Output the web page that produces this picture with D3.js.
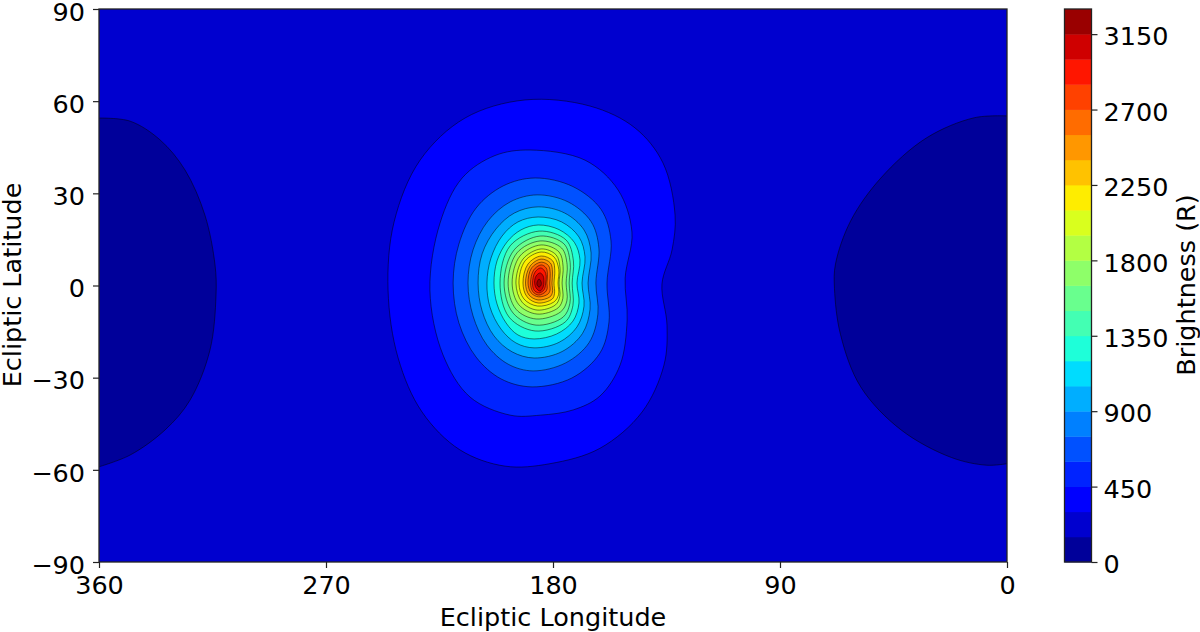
<!DOCTYPE html>
<html><head><meta charset="utf-8">
<script src="https://cdnjs.cloudflare.com/ajax/libs/d3/7.8.5/d3.min.js"></script>
<style>html,body{margin:0;background:#fff}svg{display:block}text{font-family:"DejaVu Sans",sans-serif;fill:#000}</style>
</head><body><svg id="c" width="1200" height="632"></svg>
<script>
const lonTicks=[360,270,180,90,0];
const latTicks=[90,60,30,0,-30,-60,-90];
const barTicks=[0,450,900,1350,1800,2250,2700,3150];
const bandEdges=d3.range(0,3301,150);
// jet colormap anchor points: [position, channel value]
const jetRed=[[0,0],[.35,0],[.66,1],[.89,1],[1,.5]];
const jetGreen=[[0,0],[.125,0],[.375,1],[.64,1],[.91,0],[1,0]];
const jetBlue=[[0,.5],[.11,1],[.34,1],[.65,0],[1,0]];

// Contours: [longitude, latitude]
const patch150Left=[[360,54.5],[347.7,53.5],[335.8,47.4],[325.9,37.6],[318,22.9],[314,6.7],[313.6,-3.1],[316,-21],[323.9,-37.3],[333.8,-47],[347.7,-55.2],[360,-59]];
const patch150Right=[[0,55.2],[13,54.6],[32,48],[50,35],[62,21],[68,7],[68.4,-1],[66,-16],[58,-33],[42,-47],[22,-56],[8,-58.5],[0,-58]];
const c300=[[191.1,60.4],[165.3,58.4],[147.5,51.3],[136.4,39.9],[131.6,22.9],[132.8,11.6],[136.8,0.5],[134.8,-12.9],[136,-25.9],[144.7,-41.2],[161.4,-53],[181.2,-58],[199,-58.8],[216.9,-53.5],[231.9,-41.2],[241.4,-23.6],[245.4,-1.5],[243,20.7],[232.7,40.8],[214.9,54.5]];
const c450=[[189.1,44.1],[167.3,40.8],[154.2,31.1],[148.7,17.4],[151.4,2.4],[150.6,-11.2],[153.4,-25.9],[161.4,-36],[172,-40.5],[185,-42.2],[197,-42.2],[212.9,-36.3],[223.6,-22.6],[228.8,-1.5],[224.8,20.3],[216,35],[203,42.3]];
const c600=[[187.1,35],[172.1,32.2],[160.9,24.7],[157,14.5],[158.6,.8],[157.8,-11.9],[161.4,-22],[172.5,-30.1],[188.3,-33],[200.6,-30.4],[210.5,-23.3],[217.3,-12.2],[219.6,.8],[217.3,13.5],[210.5,25.2],[199.8,32.4]];
const c750=[[186.3,29.5],[174,27.2],[164.9,20.8],[161.8,12.2],[163,.8],[162.2,-9.3],[165.7,-18.6],[175,-25.2],[187.9,-27.8],[197.8,-25.6],[206.2,-19.4],[211.7,-9.9],[213.7,.8],[211.7,11.6],[205.8,21],[197,27.2]];
const c900=[[185.9,25.6],[175.4,23.6],[167.7,18.1],[164.9,10.6],[166.1,.8],[165.3,-7.7],[168.3,-15.6],[176.4,-21.5],[187.5,-23.6],[196.2,-21.6],[203.4,-16.4],[208.1,-8.3],[209.7,.8],[208.1,10.3],[202.6,18.4],[195.3,23.6]];
const c1050=[[185.9,22.3],[176.6,20.7],[169.7,15.8],[167.3,9.3],[168.5,.8],[167.7,-6.7],[170.5,-13.5],[177.6,-18.5],[187.5,-20.3],[194.7,-18.7],[200.6,-14.2],[205,-7],[206.2,.8],[204.6,8.9],[200.2,16.1],[193.9,20.7]];
const c1200=[[185.9,19.7],[177.6,18.2],[171.5,14],[169.3,8.3],[170.5,.8],[169.7,-5.7],[172.1,-11.6],[178.6,-15.8],[187.5,-17.4],[193.9,-16.1],[198.6,-12.2],[202.2,-6],[203.4,.8],[202.2,8],[198.2,14.2],[192.7,18.1]];
const c1350=[[185.5,17.7],[174.8,14.8],[171.9,8],[172.4,.8],[172.1,-6.5],[175.2,-11.9],[187.1,-14.8],[197.4,-10.3],[201,.8],[197,12.9]];
const c1500=[[185.1,16.1],[175.6,13.5],[173.2,7.5],[173.6,.8],[173.3,-5.8],[176,-10.3],[186.7,-12.9],[195.8,-9],[199.4,.8],[195.4,11.6]];
const c1650=[[185.1,14.5],[176.6,12.2],[174.4,6.8],[174.8,.8],[174.5,-5],[177,-8.6],[186.7,-10.9],[194.7,-7.7],[197.8,.8],[194.3,10.6]];
const c1800=[[184.7,13.2],[177.6,10.9],[176,6.2],[176.4,.8],[176.1,-4.2],[178,-7.3],[186.3,-9.3],[193.5,-6.3],[196.2,.8],[193.1,9.6]];
const c1950=[[184.7,11.9],[178.8,10],[177.2,5.6],[177.6,.8],[177.3,-3.5],[179,-6.3],[186.3,-8],[192.3,-5.4],[194.7,.8],[191.9,8.6]];
const c2100=[[184.7,10.9],[179.6,9.3],[177.7,5.2],[178,.8],[177.8,-3],[179.7,-5.4],[186.1,-6.7],[191.5,-4.4],[193.5,.8],[191.1,8]];
const c2250=[[184.7,9.6],[180.1,8],[179.3,4.8],[179.6,.8],[179.4,-2.6],[180.3,-4.4],[185.9,-5.7],[190.3,-3.7],[191.9,.8],[189.9,7]];
const c2400=[[184.7,8.6],[181,7.3],[180.2,4.4],[180.4,.8],[180.2,-2.2],[181.2,-3.7],[185.9,-4.7],[189.5,-3.1],[190.9,.8],[189.1,6.3]];
const c2550=[[184.7,7.6],[181.8,6.5],[181.1,3.9],[181.3,.8],[181.2,-1.6],[182,-2.8],[185.7,-3.7],[188.7,-2.4],[189.9,.8],[188.5,5.7]];
const c2700=[[184.7,6.7],[182.7,5.7],[182.2,3.5],[182.4,.8],[182.3,-1],[183,-2.1],[185.7,-3.1],[188,-2],[188.9,.8],[187.7,5]];
const c2850=[[184.9,5.7],[183.3,4.7],[182.7,3.1],[182.9,.8],[183.2,-.8],[184,-1.8],[185.7,-2.4],[187.5,-1.5],[188.1,.8],[187.1,4.4]];
const c3000=[[185.1,4.1],[183.9,3.1],[183.6,1.1],[183.9,-.5],[185.1,-1.8],[186.7,-.8],[187.3,1.1],[186.7,3.1]];
const c3150=[[185.5,2.1],[184.7,1.1],[184.7,.2],[185.5,-.5],[186.3,.2],[186.3,1.1]];
const closedContours=[c300,c450,c600,c750,c900,c1050,c1200,c1350,c1500,c1650,c1800,c1950,c2100,c2250,c2400,c2550,c2700,c2850,c3000,c3150];
const closedLevels=d3.range(300,3151,150);

const svg=d3.select("#c");
const x=d3.scaleLinear().domain([360,0]).range([99,1007]);
const y=d3.scaleLinear().domain([-90,90]).range([562,9]);
const by=d3.scaleLinear().domain([0,3300]).range([562,9]);
const channel=s=>d3.scaleLinear().domain(s.map(p=>p[0])).range(s.map(p=>p[1]*255)).clamp(true);
const jr=channel(jetRed),jg=channel(jetGreen),jb=channel(jetBlue);
const bandColor=lo=>{const t=(lo+75)/3300;return `rgb(${Math.round(jr(t))},${Math.round(jg(t))},${Math.round(jb(t))})`;};

const lineClosed=d3.line().x(d=>x(d[0])).y(d=>y(d[1])).curve(d3.curveCatmullRomClosed.alpha(.5));
const lineOpen=d3.line().x(d=>x(d[0])).y(d=>y(d[1])).curve(d3.curveCatmullRom.alpha(.5));
const lineW=.9,lineOp=.55;

const plot=svg.append("g");
plot.append("rect").attr("x",x(360)).attr("y",y(90)).attr("width",x(0)-x(360)).attr("height",y(-90)-y(90)).attr("fill",bandColor(150));
[patch150Left,patch150Right].forEach(p=>{
  plot.append("path").attr("d",lineOpen(p)+"Z").attr("fill",bandColor(0));
  plot.append("path").attr("d",lineOpen(p)).attr("fill","none").attr("stroke","#000").attr("stroke-width",lineW).attr("stroke-opacity",lineOp);
});
closedContours.forEach((c,i)=>{
  plot.append("path").attr("d",lineClosed(c)).attr("fill",bandColor(closedLevels[i]))
    .attr("stroke","#000").attr("stroke-width",lineW).attr("stroke-opacity",lineOp);
});

function styleAxis(g,dy){
  g.selectAll("text").attr("font-size",25.5).attr("font-family","DejaVu Sans");
  if(dy) g.selectAll("text").attr("dy",dy);
  g.selectAll(".tick line").attr("stroke","#222").attr("stroke-width",1.2);
  g.select(".domain").remove();
}
const fmt=d=>String(d).replace("-","\u2212");
svg.append("g").attr("transform","translate(0,562)")
  .call(d3.axisBottom(x).tickValues(lonTicks).tickFormat(fmt).tickSize(6).tickPadding(8)).call(styleAxis);
svg.append("g").attr("transform","translate(99,0)")
  .call(d3.axisLeft(y).tickValues(latTicks).tickFormat(fmt).tickSize(6).tickPadding(8)).call(styleAxis,".44em");
svg.append("rect").attr("x",99).attr("y",9).attr("width",908).attr("height",553).attr("fill","none").attr("stroke","#222").attr("stroke-width",1.3);

const bar=svg.append("g");
bar.selectAll("rect").data(bandEdges.slice(0,-1)).join("rect")
  .attr("x",1064.5).attr("width",27).attr("y",d=>by(d+150)).attr("height",d=>by(d)-by(d+150)+.4).attr("fill",bandColor);
bar.append("rect").attr("x",1064.5).attr("y",9).attr("width",27).attr("height",553).attr("fill","none").attr("stroke","#222").attr("stroke-width",1.3);
svg.append("g").attr("transform","translate(1091.5,0)")
  .call(d3.axisRight(by).tickValues(barTicks).tickFormat(d3.format("d")).tickSize(6).tickPadding(6)).call(styleAxis,".42em");

svg.append("text").attr("x",553).attr("y",626).attr("text-anchor","middle").attr("font-size",25.5).text("Ecliptic Longitude");
svg.append("text").attr("transform","translate(21,285) rotate(-90)").attr("text-anchor","middle").attr("font-size",25.5).text("Ecliptic Latitude");
svg.append("text").attr("transform","translate(1195,285) rotate(-90)").attr("text-anchor","middle").attr("font-size",25.5).text("Brightness (R)");
</script></body></html>
